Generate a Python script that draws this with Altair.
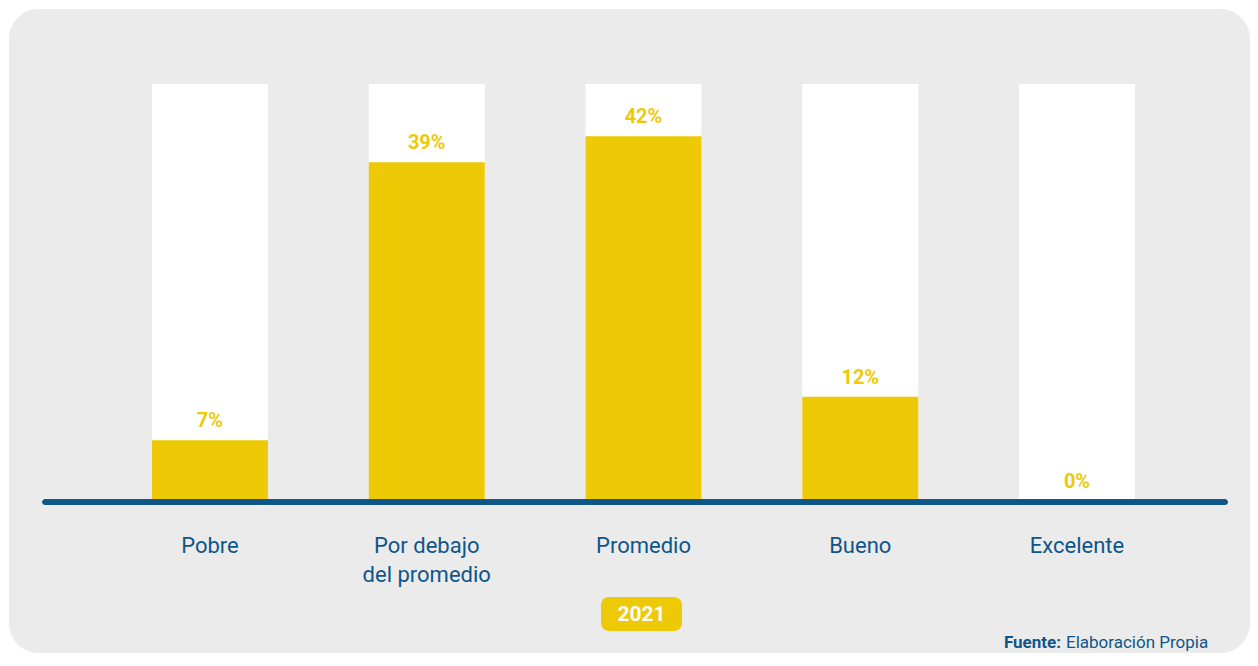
import altair as alt
import pandas as pd

categories = ["Pobre", "Por debajo del promedio", "Promedio", "Bueno", "Excelente"]
labels = ["Pobre", "Por debajo\ndel promedio", "Promedio", "Bueno", "Excelente"]
values = [0.07, 0.39, 0.42, 0.12, 0.00]
y_max = 0.48
year = "2021"
source_bold = "Fuente:"
source_text = "Elaboración Propia"

YELLOW = "#EEC906"
BLUE = "#0E568A"
GRAY = "#EBEBEB"
FONT = "Roboto"

df = pd.DataFrame({
    "category": categories,
    "label": labels,
    "value": values,
    "full": [y_max] * len(categories),
})

x_enc = alt.X("category:N", sort=categories, axis=None,
              scale=alt.Scale(range=[92.6, 1176.4], paddingInner=0.465, paddingOuter=0.2325))
y_scale = alt.Scale(domain=[0, y_max], range=[492, 75], nice=False, zero=True)

base = alt.Chart(df)

white_bars = base.mark_bar(color="white").encode(
    x=x_enc, y=alt.Y("full:Q", scale=y_scale, axis=None)
)
yellow_bars = base.mark_bar(color=YELLOW).encode(
    x=x_enc, y=alt.Y("value:Q", scale=y_scale, axis=None)
)
value_labels = base.mark_text(
    color=YELLOW, font=FONT, fontSize=20, fontWeight="bold", baseline="middle", dy=-19
).encode(
    x=x_enc, y=alt.Y("value:Q", scale=y_scale, axis=None),
    text=alt.Text("value:Q", format=".0%"),
)
baseline = base.mark_rule(color=BLUE, strokeWidth=5, strokeCap="round").encode(
    x=alt.value(36), x2=alt.value(1216), y=alt.value(493)
)
cat_labels = base.mark_text(
    color=BLUE, font=FONT, fontSize=22, baseline="middle", lineBreak="\n", lineHeight=29
).encode(
    x=x_enc, y=alt.value(537), text="label:N"
)

badge_df = pd.DataFrame({"t": [year]})
badge_rect = alt.Chart(badge_df).mark_rect(color=YELLOW, cornerRadius=8).encode(
    x=alt.value(592), x2=alt.value(673), y=alt.value(588), y2=alt.value(622)
)
badge_text = alt.Chart(badge_df).mark_text(
    color="white", font=FONT, fontSize=21, fontWeight="bold", baseline="middle"
).encode(x=alt.value(632.5), y=alt.value(606), text="t:N")

src_df = pd.DataFrame({"b": [source_bold], "t": [source_text]})
src_bold = alt.Chart(src_df).mark_text(
    color=BLUE, font=FONT, fontSize=17, fontWeight="bold", align="right", baseline="middle"
).encode(x=alt.value(1052), y=alt.value(634), text="b:N")
src_reg = alt.Chart(src_df).mark_text(
    color=BLUE, font=FONT, fontSize=17, align="left", baseline="middle"
).encode(x=alt.value(1057), y=alt.value(634), text="t:N")

chart = alt.layer(
    white_bars, yellow_bars, baseline, value_labels, cat_labels,
    badge_rect, badge_text, src_bold, src_reg
).properties(
    width=1241, height=644,
    padding={"left": 1, "top": 1, "right": 0, "bottom": 0},
    background="white",
).configure_view(
    fill=GRAY, strokeWidth=0, cornerRadius=30
)

chart.save("out.html", embed_options={"renderer": "svg", "actions": False})
